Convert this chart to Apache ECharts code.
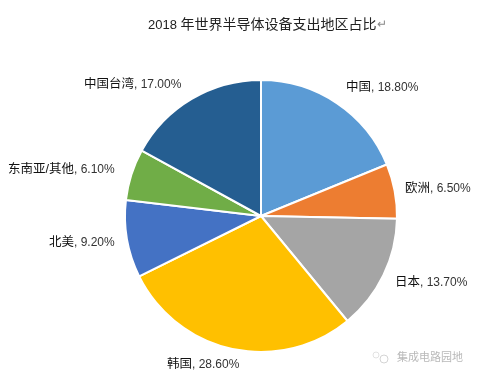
<!DOCTYPE html>
<html>
<head>
<meta charset="utf-8">
<style>html,body{margin:0;padding:0;background:#fff}#main{width:477px;height:377px}</style>
<script src="https://cdn.jsdelivr.net/npm/echarts@6/dist/echarts.min.js"></script>
</head>
<body>
<div id="main"></div>
<script>
var regiones = ['中国', '欧洲', '日本', '韩国', '北美', '东南亚/其他', '中国台湾'];
var valores = [18.8, 6.5, 13.7, 28.6, 9.2, 6.1, 17.0];
var colores = ['#5B9BD5', '#ED7D31', '#A5A5A5', '#FFC000', '#4472C4', '#70AD47', '#255E91'];
var marca = '集成电路园地';
var fuente = '"Liberation Sans","Noto Sans CJK SC",sans-serif';

// donde van las etiquetas: borde izquierdo y centro vertical
var etiquetaX = [346, 405, 395, 167, 49, 8, 84];
var etiquetaY = [88, 189, 283, 365, 243, 170, 85];

var datos = [];
for (var i = 0; i < regiones.length; i++) {
    datos[i] = {name: regiones[i], value: valores[i], itemStyle: {color: colores[i]}};
}
var myChart = echarts.init(document.getElementById('main'));
myChart.setOption({
    animation: false,
    title: {
        text: '{a|2018 }{b|年世界半导体设备支出地区占比}{c|↵}',
        left: 143,
        top: 13,
        textStyle: {
            fontWeight: 'normal',
            rich: {
                a: {fontFamily: fuente, fontSize: 13, color: '#222'},
                b: {fontFamily: fuente, fontSize: 14, color: '#222'},
                c: {fontFamily: fuente, fontSize: 12, color: '#888'}
            }
        }
    },
    graphic: [
        {type: 'text', left: 397, top: 352, style: {text: marca, fontFamily: fuente, fontSize: 11, fill: '#b8b8b8'}},
        {type: 'circle', shape: {cx: 384, cy: 359, r: 4}, style: {fill: 'none', stroke: '#d4d4d4', lineWidth: 1}},
        {type: 'circle', shape: {cx: 376, cy: 355, r: 3}, style: {fill: 'none', stroke: '#e2e2e2', lineWidth: 1}}
    ],
    series: [{
        type: 'pie',
        center: [261, 216],
        radius: [0, 136],
        startAngle: 90,
        clockwise: true,
        data: datos,
        itemStyle: {borderColor: '#fff', borderWidth: 2},
        label: {
            show: true,
            position: 'outside',
            overflow: 'none',
            formatter: function (p) {
                return '{n|' + p.name + '}{v|, ' + p.value.toFixed(2) + '%}';
            },
            rich: {
                n: {fontFamily: fuente, fontSize: 12.5, color: '#111'},
                v: {fontFamily: fuente, fontSize: 12, color: '#333'}
            }
        },
        labelLine: {show: false},
        labelLayout: function (params) {
            return {
                x: etiquetaX[params.dataIndex],
                y: etiquetaY[params.dataIndex],
                align: 'left',
                verticalAlign: 'middle',
                hideOverlap: false
            };
        }
    }]
});
</script>
</body>
</html>
